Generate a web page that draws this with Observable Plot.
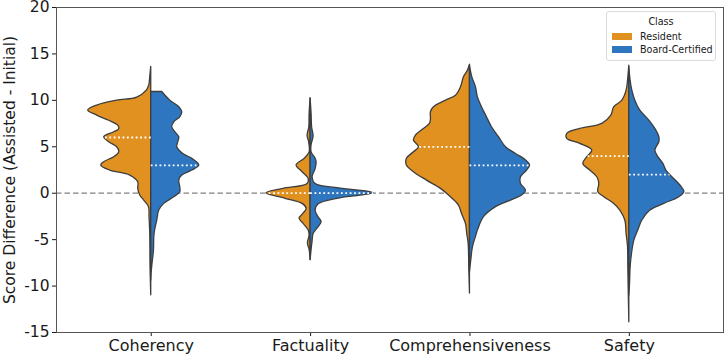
<!DOCTYPE html>
<html>
<head>
<meta charset="utf-8">
<script src="https://cdn.jsdelivr.net/npm/d3@7"></script>
<script src="https://cdn.jsdelivr.net/npm/@observablehq/plot@0.6"></script>
<style>
  body { margin: 0; background: #fff; }
  #wrap { position: relative; width: 725px; height: 357px; font-family: "DejaVu Sans", sans-serif; color: #1a1a1a; }
  #wrap svg { overflow: visible; }
  #legend { position: absolute; left: 606px; top: 11px; width: 110px; height: 50px; box-sizing: border-box;
            border: 1px solid #dcdcdc; border-radius: 3px; background: rgba(255,255,255,0.85); font-size: 9.6px; }
  #legend .title { position: absolute; left: 0; width: 100%; top: 4px; text-align: center; }
  #legend .row { position: absolute; left: 5px; height: 12px; display: flex; align-items: center; }
  #legend .sw { width: 20px; height: 7px; margin-right: 8px; }
</style>
</head>
<body>
<div id="wrap"></div>
<script>
// Score-difference distributions (Assisted - Initial) per criterion, split by class.
const categories = ["Coherency", "Factuality", "Comprehensiveness", "Safety"];
const classes = ["Resident", "Board-Certified"];
const classColors = ["#e0911f", "#2e76c0"];

// Kernel density profiles: [score, density]
const coherencyResident = [[13.6,0],[12.5,0.01],[11.6,0.02],[11.05,0.045],[10.3,0.14],[9.97,0.34],[9.44,0.54],[8.9,0.63],[8.36,0.54],[7.8,0.42],[7.28,0.33],[6.9,0.32],[6.57,0.37],[6.03,0.47],[5.49,0.42],[4.95,0.34],[4.41,0.32],[3.88,0.37],[3.34,0.47],[2.98,0.50],[2.44,0.41],[1.9,0.21],[1.18,0.13],[0.47,0.13],[-0.25,0.11],[-0.79,0.07],[-1.5,0.023],[-2.58,0.017],[-4.4,0.01],[-8,0.007],[-11,0]];
const coherencyBoard = [[10.9,0.11],[9.97,0.19],[9.26,0.28],[8.72,0.31],[8.18,0.29],[7.64,0.23],[7.1,0.21],[6.57,0.24],[6.03,0.28],[5.49,0.27],[4.95,0.26],[4.23,0.32],[3.7,0.41],[2.98,0.48],[2.44,0.41],[1.9,0.31],[1.36,0.28],[0.65,0.29],[0.11,0.29],[-0.43,0.23],[-1.15,0.13],[-1.87,0.08],[-2.94,0.06],[-4.4,0.033],[-6.2,0.027],[-7.6,0.013],[-8.7,0.003],[-9.4,0]];
const factualityResident = [[10.2,0],[8.5,0.01],[7.1,0.013],[6.2,0.03],[5.5,0.015],[4.4,0.01],[3.7,0.06],[3.0,0.14],[2.26,0.08],[1.55,0.02],[1.0,0.03],[0.47,0.27],[0,0.44],[-0.6,0.25],[-1.15,0.08],[-1.68,0.04],[-2.2,0.07],[-2.76,0.11],[-3.3,0.07],[-4.0,0.02],[-4.55,0.01],[-5.4,0.027],[-6.1,0.01],[-7.2,0]];
const factualityBoard = [[10.2,0],[8.5,0.01],[7.1,0.015],[6.1,0.03],[5.2,0.01],[4.4,0.01],[3.7,0.05],[3.3,0.06],[2.6,0.05],[1.7,0.02],[1.0,0.05],[0.5,0.30],[0.2,0.55],[0,0.63],[-0.25,0.5],[-0.6,0.27],[-1.2,0.08],[-1.9,0.05],[-2.6,0.08],[-3.1,0.11],[-3.65,0.08],[-4.4,0.03],[-5.2,0.02],[-6.1,0.01],[-7.2,0]];
const comprehensivenessResident = [[13.85,0],[13.2,0.02],[12.5,0.06],[11.4,0.09],[10.5,0.14],[9.97,0.24],[9.26,0.36],[8.72,0.39],[8.0,0.39],[7.46,0.40],[6.92,0.46],[6.2,0.54],[5.67,0.56],[4.95,0.51],[4.41,0.56],[3.7,0.63],[2.98,0.63],[2.26,0.56],[1.36,0.43],[0.47,0.29],[-0.43,0.19],[-1.33,0.11],[-2.22,0.08],[-3.3,0.04],[-4.4,0.027],[-5.45,0.013],[-8,0.007],[-10.8,0]];
const comprehensivenessBoard = [[13.74,0],[12.5,0.023],[11.4,0.06],[10.3,0.08],[9.26,0.12],[8.18,0.17],[7.1,0.22],[6.03,0.29],[4.95,0.36],[4.23,0.46],[3.52,0.56],[2.98,0.60],[2.44,0.57],[1.72,0.51],[1.0,0.51],[0.29,0.56],[-0.25,0.52],[-0.79,0.41],[-1.5,0.26],[-2.58,0.14],[-4.0,0.08],[-4.7,0.06],[-5.8,0.03],[-7.25,0.013],[-8.5,0]];
const safetyResident = [[13.74,0],[12.1,0.013],[11.05,0.027],[9.97,0.07],[9.26,0.15],[8.36,0.18],[7.46,0.27],[6.92,0.49],[6.39,0.62],[5.85,0.62],[5.31,0.49],[4.59,0.37],[3.88,0.42],[3.16,0.46],[2.44,0.39],[1.72,0.32],[1.0,0.30],[0.11,0.31],[-0.43,0.25],[-1.15,0.15],[-1.87,0.09],[-2.94,0.04],[-4.4,0.027],[-5.8,0.013],[-8,0.01],[-13.9,0]];
const safetyBoard = [[13.56,0],[12.1,0.013],[11.05,0.03],[9.97,0.06],[8.9,0.11],[7.82,0.20],[6.92,0.26],[6.03,0.30],[5.49,0.30],[4.59,0.26],[3.88,0.29],[3.16,0.34],[2.44,0.37],[1.72,0.43],[0.83,0.51],[0.11,0.55],[-0.43,0.50],[-1.15,0.35],[-1.87,0.21],[-2.94,0.13],[-4.0,0.09],[-5.1,0.05],[-6.5,0.027],[-8,0.013],[-9.8,0.007],[-11,0]];

// Medians per criterion
const residentMedians = [6, 0, 5, 4];
const boardMedians = [3, 0, 3, 2];

const yTicks = [-15, -10, -5, 0, 5, 10, 15, 20];

// Density -> horizontal extent (in category units)
const densityScale = 0.628;

const profiles = [
  [coherencyResident, coherencyBoard],
  [factualityResident, factualityBoard],
  [comprehensivenessResident, comprehensivenessBoard],
  [safetyResident, safetyBoard]
];

// Density at a given score by linear lookup in the profile
function densityAt(profile, s) {
  for (let i = 0; i < profile.length - 1; i++) {
    const [s0, d0] = profile[i], [s1, d1] = profile[i + 1];
    if (s <= s0 && s >= s1) return d0 + (d1 - d0) * (s0 - s) / (s0 - s1);
  }
  return 0;
}

const halves = [];
const medianRows = [];
profiles.forEach((pair, ci) => {
  pair.forEach((profile, k) => {
    const side = k === 0 ? -1 : 1;
    halves.push({
      fill: classColors[k],
      rows: profile.map(([score, density]) => ({score, x1: ci, x2: ci + side * density * densityScale}))
    });
    const m = k === 0 ? residentMedians[ci] : boardMedians[ci];
    medianRows.push({score: m, x1: ci, x2: ci + side * densityAt(profile, m) * densityScale});
  });
});

const marks = [
  Plot.ruleY([0], {stroke: "#808080", strokeWidth: 1.3, strokeDasharray: "5.5,3"}),
  ...halves.map(h => Plot.areaX(h.rows, {
    y: "score", x1: "x1", x2: "x2", fill: h.fill,
    stroke: "#3d3d3d", strokeWidth: 1.3, strokeLinejoin: "round", curve: "catmull-rom"
  })),
  Plot.ruleY(medianRows, {y: "score", x1: "x1", x2: "x2", stroke: "white", strokeWidth: 1.8, strokeDasharray: "1.8,2.6"}),
  Plot.axisY({ticks: yTicks, tickFormat: d => String(d), tickSize: 4, tickPadding: 3, fontSize: 15.5,
              label: "Score Difference (Assisted - Initial)", labelAnchor: "center", labelArrow: "none", labelOffset: 53}),
  Plot.axisX({ticks: [0, 1, 2, 3], tickFormat: i => categories[i], tickSize: 4, tickPadding: 3, fontSize: 16, label: null}),
  Plot.frame({stroke: "#555", strokeWidth: 1})
];

const chart = Plot.plot({
  width: 725, height: 357,
  marginLeft: 56, marginRight: 2, marginTop: 7, marginBottom: 25,
  style: {fontFamily: "DejaVu Sans, sans-serif", fontSize: "16px", color: "#1a1a1a", background: "white"},
  x: {type: "linear", domain: [-0.5945, 3.591]},
  y: {domain: [-15, 20]},
  marks
});

const wrap = document.getElementById("wrap");
wrap.appendChild(chart);

// Legend box
const legend = document.createElement("div");
legend.id = "legend";
const title = document.createElement("div");
title.className = "title";
title.textContent = "Class";
legend.appendChild(title);
classes.forEach((c, i) => {
  const row = document.createElement("div");
  row.className = "row";
  row.style.top = (18.5 + i * 12.6) + "px";
  const sw = document.createElement("span");
  sw.className = "sw";
  sw.style.background = classColors[i];
  const lab = document.createElement("span");
  lab.textContent = c;
  row.appendChild(sw);
  row.appendChild(lab);
  legend.appendChild(row);
});
wrap.appendChild(legend);
</script>
</body>
</html>
